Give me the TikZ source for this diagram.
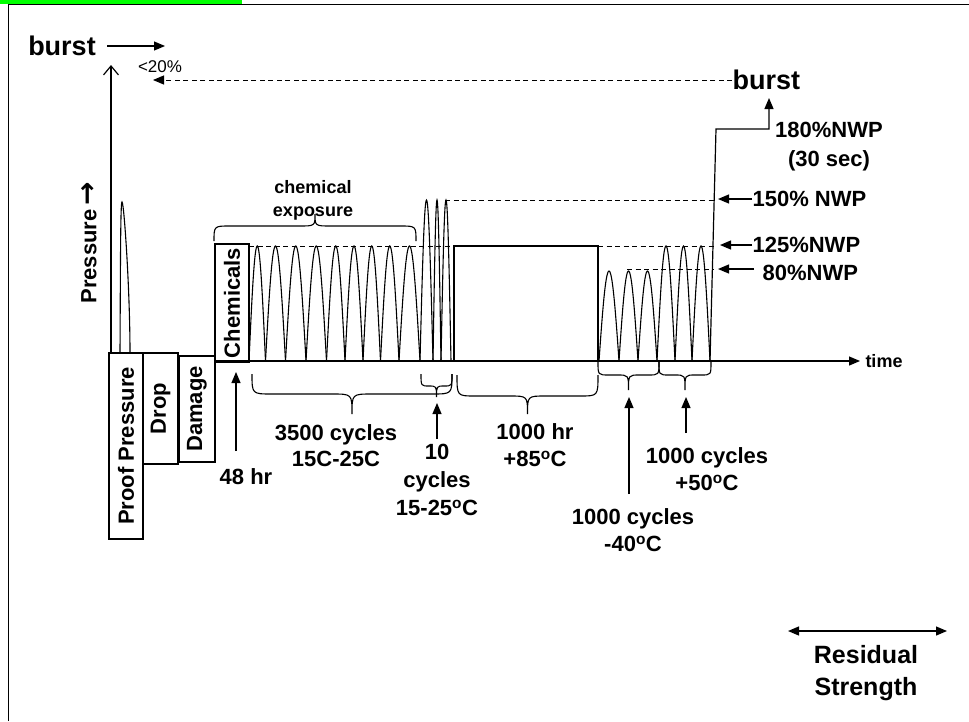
\documentclass[tikz,border=0pt]{standalone}
\usepackage{fontspec}
\setmainfont{Liberation Sans}
\newfontfamily\djv{DejaVu Sans}
\usetikzlibrary{arrows.meta}
\newcommand\hump[3]{\draw[wave] plot[domain=0:180,samples=31,smooth] ({#1+(#2-#1)*\x/180},{361-#3*sin(\x)});}
\newcommand\curly[6]{%
 \draw[brc] (#1,#3) .. controls (#1,#4) and (#1,#4) .. ({#1+#6},#4) -- ({(#1+#2)/2-#6},#4)
  .. controls ({(#1+#2)/2},#4) and ({(#1+#2)/2},#4) .. ({(#1+#2)/2},#5)
  .. controls ({(#1+#2)/2},#4) and ({(#1+#2)/2},#4) .. ({(#1+#2)/2+#6},#4) -- ({#2-#6},#4)
  .. controls (#2,#4) and (#2,#4) .. (#2,#3);}
\begin{document}
\begin{tikzpicture}[x=1pt,y=-1pt,line width=1.2pt,
  lbl/.style={font=\bfseries\fontsize{22}{27}\selectfont, align=center, inner sep=0pt},
  bigl/.style={font=\bfseries\fontsize{27}{30}\selectfont, inner sep=0pt},
  box/.style={draw, line width=1.2pt, inner sep=0pt, font=\bfseries\fontsize{22}{26}\selectfont, rotate=90},
  tri/.style={-{Triangle[length=11pt,width=9pt]}},
  dsh/.style={dash pattern=on 5pt off 3.5pt, line width=1pt},
  wave/.style={line width=1.1pt},
  brc/.style={line width=1.1pt}]
\useasboundingbox (0,0) rectangle (969,721);
% green band and frame
\fill[green] (0,0) rectangle (242,3.5);
\draw[line width=1pt] (8,721) -- (8,4) -- (969,4);

% top-left burst
\node[bigl] (burstL) at (62,46) {burst};
\coordinate (bS) at (107,46);
\coordinate (bE) at (165,46);
\draw[tri] (bS) -- (bE);
\node[font=\fontsize{17}{20}\selectfont, inner sep=0pt] (lt20) at (160,67) {<20\%};

% right burst and dashed return arrow
\node[bigl, anchor=west] (burstR) at (732,80) {burst};
\coordinate (dE) at (153,80);
\draw[dsh, -{Triangle[length=11pt,width=9pt]}] (burstR.west) -- (dE);

% pressure axis
\coordinate (yBot) at (111,353);
\coordinate (yTop) at (111,65);
\draw[-{Straight Barb[length=9pt,width=15pt]}] (yBot) -- (yTop);
\node[lbl, rotate=90] (press) at (89,243) {Pressure\,{\djv\bfseries\fontsize{28}{28}\selectfont →}};

% boxes
\node[box, minimum width=186pt, minimum height=34pt] (proof) at (126,446) {Proof Pressure};
\node[box, minimum width=111pt, minimum height=35pt] (drop) at (160.5,408.5) {Drop};
\node[box, minimum width=106pt, minimum height=36pt] (dmg) at (197,409) {Damage};
\node[box, minimum width=118pt, minimum height=34pt] (chem) at (232,303) {Chemicals};

% proof spike
\draw[wave] (120,353) .. controls (120.5,260) and (120.5,202) .. (122,202) .. controls (124,202) and (130,290) .. (130,353);

% time axis
\coordinate (tS) at (215,361);
\coordinate (tE) at (860,361);
\draw[tri] (tS) -- (tE);
\node[font=\bfseries\fontsize{18}{20}\selectfont, inner sep=0pt] (time) at (884,361) {time};

% dashed levels
\draw[dsh] (249,246) -- (454,246);
\draw[dsh] (598,246) -- (716,246);
\draw[dsh] (445,200) -- (716,200);
\draw[dsh] (627,269) -- (714,269);

% chemical cycles
\foreach \a/\b in {249/265.5, 265.5/285.5, 285.5/306, 306/326.5, 326.5/345, 345/363, 363/380.5, 380.5/399, 399/420}
  {\hump{\a}{\b}{115}}
\foreach \a/\b in {420/433, 433/441, 441/451}
  {\hump{\a}{\b}{161}}
% 1000 hr hold
\draw[line width=2pt] (454,361) -- (454,246) -- (598,246) -- (598,361);
% -40 and +50 cycles
\foreach \a/\b in {599/619, 619/638, 638/657}
  {\hump{\a}{\b}{90}}
\foreach \a/\b in {657/675, 675/692, 692/710}
  {\hump{\a}{\b}{115}}
% final burst ramp
\coordinate (f0) at (710,361);
\coordinate (f1) at (716,129);
\coordinate (f2) at (769,129);
\coordinate (fT) at (769,98);
\draw[tri] (f0) -- (f1) -- (f2) -- (fT);

% level labels
\node[lbl, anchor=north] (n180) at (829,121.5) {180\%NWP\\[2pt](30 sec)};
\node[lbl, anchor=west] (n150) at (752,199) {150\% NWP};
\draw[tri] (n150.west) -- (718,199);
\node[lbl, anchor=west] (n125) at (752,245) {125\%NWP};
\draw[tri] (n125.west) -- (720,245);
\node[lbl, anchor=west] (n80) at (762,273) {80\%NWP};
\coordinate (a80) at (754,269);
\draw[tri] (a80) -- (718,269);

% braces
\curly{214}{416}{241}{226}{214}{16}
\curly{252}{452}{374}{394}{414}{20}
\curly{421}{452}{374}{386}{397}{8}
\curly{457}{598}{375}{396}{414}{18}
\curly{598}{659}{362}{375}{390}{11}
\curly{659}{711}{362}{375}{390}{10}

% chemical exposure label
\node[font=\bfseries\fontsize{18}{23}\selectfont, align=center, inner sep=0pt, anchor=north] (chx) at (313,180) {chemical\\exposure};

% bottom labels
\node[lbl] (n48) at (246,477) {48 hr};
\coordinate (a48) at (236,451);
\draw[tri] (a48) -- (236,372);
\node[lbl, font=\bfseries\fontsize{22}{26}\selectfont, anchor=north] (n3500) at (336,424) {3500 cycles\\15C-25C};
\node[lbl, font=\bfseries\fontsize{22}{28}\selectfont, anchor=north] (n10) at (437,444) {10\\cycles\\15-25\textsuperscript{o}C};
\coordinate (a10) at (437,439);
\draw[tri] (a10) -- (437,403);
\node[lbl, anchor=north] (n1000) at (535,423) {1000 hr\\+85\textsuperscript{o}C};
\node[lbl, anchor=north] (n50) at (707,447) {1000 cycles\\+50\textsuperscript{o}C};
\coordinate (a50) at (686,433);
\draw[tri] (a50) -- (686,397);
\node[lbl, anchor=north] (n40) at (633,508) {1000 cycles\\-40\textsuperscript{o}C};
\coordinate (a40) at (629,494);
\draw[tri] (a40) -- (629,397);

% residual strength
\coordinate (rL) at (788,631);
\coordinate (rR) at (947,631);
\draw[{Triangle[length=11pt,width=9pt]}-{Triangle[length=11pt,width=9pt]}] (rL) -- (rR);
\node[font=\bfseries\fontsize{25}{32}\selectfont, align=center, inner sep=0pt, anchor=north] (res) at (866,645) {Residual\\Strength};
\end{tikzpicture}
\end{document}
